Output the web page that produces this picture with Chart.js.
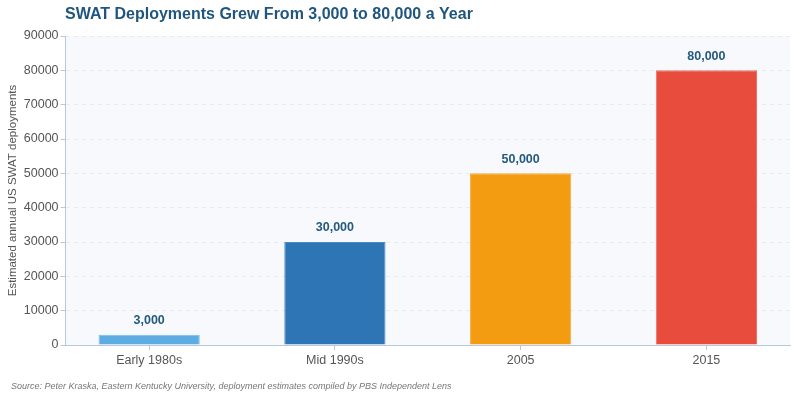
<!DOCTYPE html>
<html>
<head>
<meta charset="utf-8">
<script src="https://cdn.jsdelivr.net/npm/chart.js@4.4.0/dist/chart.umd.min.js"></script>
<style>
  html, body { margin: 0; padding: 0; background: #ffffff; }
  #wrap { position: relative; width: 798px; height: 400px; }
</style>
</head>
<body>
<div id="wrap"><canvas id="Chart" width="798" height="400"></canvas></div>
<script>
// Categories and values
var periods = ["Early 1980s", "Mid 1990s", "2005", "2015"];
var deployments = [3000, 30000, 50000, 80000];
var barColors = ["#5dade2", "#2e75b6", "#f39c12", "#e74c3c"];
var borderColors = ["#7fc0ea", "#4a8cc6", "#f5ad3d", "#ee7063"];

var FONT = "'Liberation Sans', Arial, sans-serif";

// Bars sit at integer positions 0..3 on a numeric x axis
var points = deployments.map(function(v, i) { return { x: i, y: v }; });

// Shaded plot area
var plotBackground = {
  id: 'plotBackground',
  beforeDraw: function(chart) {
    var a = chart.chartArea, ctx = chart.ctx;
    ctx.save();
    ctx.fillStyle = "#f8f9fc";
    ctx.fillRect(a.left, a.top, a.right - a.left, a.bottom - a.top);
    ctx.restore();
  }
};

// Value labels over bars
var valueLabels = {
  id: 'valueLabels',
  afterDatasetsDraw: function(chart) {
    var ctx = chart.ctx;
    var meta = chart.getDatasetMeta(0);
    ctx.save();
    ctx.font = "bold 12.5px " + FONT;
    ctx.fillStyle = "#245a7e";
    ctx.textAlign = "center";
    ctx.textBaseline = "middle";
    meta.data.forEach(function(bar, i) {
      ctx.fillText(deployments[i].toLocaleString('en-US'), bar.x, bar.y - 14);
    });
    ctx.restore();
  }
};

// Title (aligned with plot area) and source note
var textBits = {
  id: 'textBits',
  afterDraw: function(chart) {
    var ctx = chart.ctx;
    ctx.save();
    ctx.font = "bold 16px " + FONT;
    ctx.fillStyle = "#1f557e";
    ctx.textAlign = "left";
    ctx.textBaseline = "middle";
    ctx.fillText("SWAT Deployments Grew From 3,000 to 80,000 a Year", 65, 15);
    ctx.font = "italic 9px " + FONT;
    ctx.fillStyle = "#777777";
    ctx.fillText("Source: Peter Kraska, Eastern Kentucky University, deployment estimates compiled by PBS Independent Lens", 11, 386);
    ctx.restore();
  }
};

var chart = document.getElementById("Chart");
var myChart = new Chart(chart, {
  type: 'bar',
  data: {
    datasets: [{
      label: "Estimated annual US SWAT deployments",
      data: points,
      backgroundColor: barColors,
      borderColor: borderColors,
      borderWidth: 1,
      barPercentage: 0.545,
      categoryPercentage: 1.0
    }]
  },
  options: {
    responsive: false,
    animation: false,
    layout: { padding: { left: 4, right: 8, top: 36, bottom: 29 } },
    plugins: {
      legend: { display: false },
      tooltip: { enabled: false },
      title: { display: false }
    },
    scales: {
      x: {
        type: 'linear',
        min: -0.45,
        max: 3.45,
        offset: false,
        afterBuildTicks: function(scale) {
          scale.ticks = periods.map(function(p, i) { return { value: i }; });
        },
        grid: { offset: false, drawOnChartArea: false, drawTicks: true, tickLength: 5, tickColor: '#b8c8dc' },
        border: { color: '#b8c8dc' },
        ticks: {
          color: '#555555',
          font: { family: FONT, size: 12.5 },
          padding: 3,
          callback: function(v) { return periods[v]; }
        }
      },
      y: {
        min: 0,
        max: 90000,
        ticks: {
          stepSize: 10000,
          color: '#555555',
          font: { family: FONT, size: 12.5 },
          padding: 2,
          callback: function(v) { return String(v); }
        },
        grid: { color: '#e8ebf0', tickColor: '#b8c8dc', tickLength: 5 },
        border: { color: '#b8c8dc', dash: [4, 4] },
        title: {
          display: true,
          text: 'Estimated annual US SWAT deployments',
          color: '#555555',
          font: { family: FONT, size: 11.5 },
          padding: { top: 2, bottom: 2 }
        }
      }
    }
  },
  plugins: [plotBackground, valueLabels, textBits]
});
</script>
</body>
</html>
